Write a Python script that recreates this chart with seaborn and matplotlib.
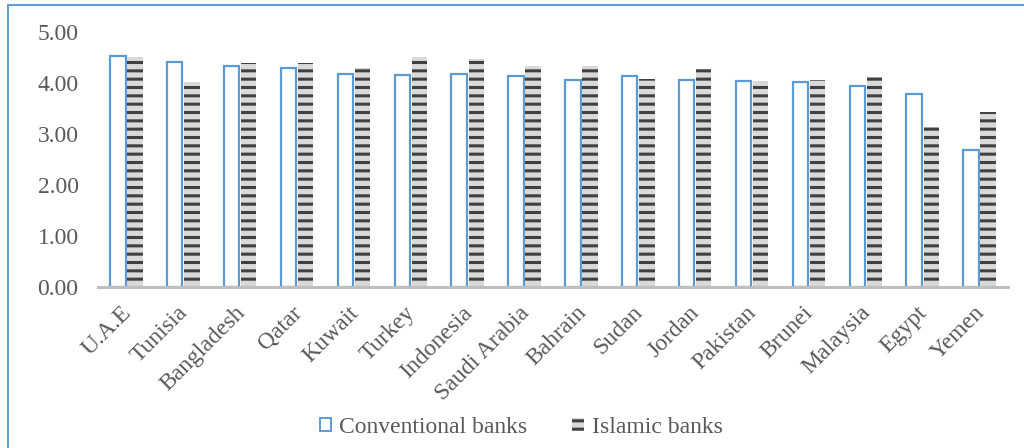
import pandas as pd
import seaborn as sns
import matplotlib.pyplot as plt
from matplotlib.lines import Line2D
from matplotlib.patches import Patch
from matplotlib.transforms import ScaledTranslation

countries = ["U.A.E", "Tunisia", "Bangladesh", "Qatar", "Kuwait", "Turkey",
             "Indonesia", "Saudi Arabia", "Bahrain", "Sudan", "Jordan",
             "Pakistan", "Brunei", "Malaysia", "Egypt", "Yemen"]
conventional = [4.53, 4.42, 4.34, 4.29, 4.17, 4.15, 4.18, 4.13, 4.05, 4.13,
                4.06, 4.03, 4.02, 3.94, 3.78, 2.69]
islamic = [4.51, 4.01, 4.39, 4.39, 4.29, 4.51, 4.48, 4.33, 4.33, 4.08,
           4.27, 4.03, 4.05, 4.12, 3.13, 3.44]
series = ["Conventional banks", "Islamic banks"]

df = pd.DataFrame({
    "country": countries * 2,
    "value": conventional + islamic,
    "bank": [series[0]] * len(countries) + [series[1]] * len(countries),
})

sns.set_style("white")
plt.rcParams['font.family'] = ['Liberation Serif', 'DejaVu Serif']
plt.rcParams['hatch.linewidth'] = 2.2

text_col = "#595959"
blue = "#5b9bd5"
fs = 17

fig = plt.figure(figsize=(10.24, 4.48), dpi=100)
ax = fig.add_axes([98 / 1024, 1 - 287 / 448, 910 / 1024, 255 / 448])

sns.barplot(data=df, x="country", y="value", hue="bank", ax=ax,
            palette=["white", "#d9d9d9"], width=0.6, gap=0.1,
            saturation=1, legend=False)

# conventional: white with blue outline
for p in ax.containers[0]:
    p.set_facecolor("white")
    p.set_edgecolor(blue)
    p.set_linewidth(1.6)
# islamic: light gray with dark horizontal stripes
for p in ax.containers[1]:
    p.set_facecolor("#d9d9d9")
    p.set_edgecolor("#404040")
    p.set_linewidth(0)
    p.set_hatch("--")

ax.set_ylim(0, 5)
ax.set_xlim(-0.5, len(countries) - 0.5)
ax.set_yticks([0, 1, 2, 3, 4, 5])
ax.set_yticklabels([f"{v:.2f}" for v in [0, 1, 2, 3, 4, 5]])
ax.set_xlabel("")
ax.set_ylabel("")
for s in ["top", "right", "left"]:
    ax.spines[s].set_visible(False)
ax.spines["bottom"].set_color("#bfbfbf")
ax.spines["bottom"].set_linewidth(2.2)
ax.tick_params(axis="y", length=0, pad=14, labelsize=fs, labelcolor=text_col)
ax.tick_params(axis="x", length=0, pad=11, labelsize=fs, labelcolor=text_col)
shift = ScaledTranslation(-6 / 100, 0, fig.dpi_scale_trans)
for lab in ax.get_xticklabels():
    lab.set_rotation(45)
    lab.set_ha("right")
    lab.set_rotation_mode("anchor")
    lab.set_transform(lab.get_transform() + shift)

handles = [
    Patch(facecolor="white", edgecolor=blue, linewidth=1.4, label=series[0]),
    Patch(facecolor="#d9d9d9", edgecolor="#404040", linewidth=0,
          hatch="--", label=series[1]),
]
ax.legend(handles=handles, loc="lower center", bbox_to_anchor=(0.465, -0.675),
          ncol=2, frameon=False, fontsize=fs, handlelength=0.48,
          handleheight=0.48, handletextpad=0.35, columnspacing=1.9,
          labelcolor=text_col)

# outer frame (left and top edge of the chart box)
fig.add_artist(Line2D([7.5 / 1024, 7.5 / 1024], [0, 1 - 5.5 / 448],
                      color=blue, lw=1.4, transform=fig.transFigure))
fig.add_artist(Line2D([7.5 / 1024, 1], [1 - 5.5 / 448, 1 - 5.5 / 448],
                      color=blue, lw=1.4, transform=fig.transFigure))

fig.savefig("out.png", dpi=100)
